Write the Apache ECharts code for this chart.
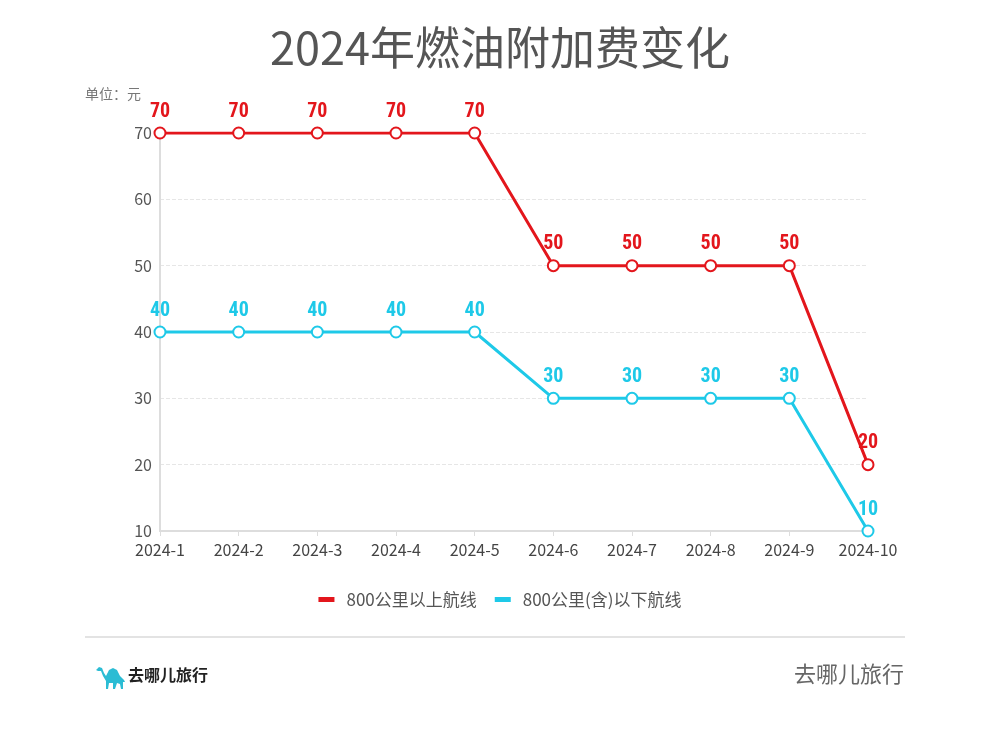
<!DOCTYPE html>
<html><head><meta charset="utf-8">
<script src="https://cdn.jsdelivr.net/npm/echarts@6/dist/echarts.min.js"></script>
<style>html,body{margin:0;padding:0;background:#fff}#c{width:1000px;height:735px}</style>
</head><body><div id="c"></div>
<script>
const categories = ['2024-1','2024-2','2024-3','2024-4','2024-5','2024-6','2024-7','2024-8','2024-9','2024-10'];
const seriesNames = ['800公里以上航线','800公里(含)以下航线'];
const above800 = [70,70,70,70,70,50,50,50,50,20];
const below800 = [40,40,40,40,40,30,30,30,30,10];
const yTicks = {min:10, max:70, interval:10};

const font = '"Noto Sans CJK SC","Noto Sans",sans-serif';
const red = '#e3161c', cyan = '#1ec9e8';
const chart = echarts.init(document.getElementById('c'));
function mk(name, data, color){
  return {
    name, type:'line', data,
    lineStyle:{color, width:3},
    itemStyle:{color:'#fff', borderColor:color, borderWidth:2},
    symbol:'circle', symbolSize:11,
    label:{show:true, position:'top', distance:5, color, fontSize:20, fontWeight:'bold', fontFamily:'"Roboto Condensed","Liberation Sans Narrow","Roboto",sans-serif'},
    emphasis:{disabled:true}
  };
}
const camel = [[0,5],[3,2],[6,3],[8,8],[10,11],[13,5],[17,3],[21,5],[24,11],[28,15],[29,17],[27,17],[27,24],[25,24],[24,19],[21,18],[19,24],[17,24],[17,18],[13,18],[12,24],[10,24],[10,16],[7,11],[5,6],[2,6]];
chart.setOption({
  animation:false,
  title:{text:'2024年燃油附加费变化', left:'center', top:20, textStyle:{fontSize:45, fontWeight:'normal', color:'#555', fontFamily:font}},
  legend:{top:586, left:'center', itemWidth:14, itemHeight:3, itemGap:18, icon:'rect',
    textStyle:{fontSize:17, color:'#555', fontFamily:font, padding:[0,0,0,8]},
    data:[{name:seriesNames[0], itemStyle:{color:red}},{name:seriesNames[1], itemStyle:{color:cyan}}]},
  grid:{left:160, right:132, top:133, bottom:204, containLabel:false},
  xAxis:{type:'category', data:categories, boundaryGap:false,
    axisLine:{lineStyle:{color:'#ddd', width:2}},
    axisTick:{show:true, alignWithLabel:true, lineStyle:{color:'#ddd'}},
    axisLabel:{color:'#444', fontSize:16, margin:11, fontFamily:font}},
  yAxis:{type:'value', min:yTicks.min, max:yTicks.max, interval:yTicks.interval,
    axisLine:{show:true, lineStyle:{color:'#ddd', width:2}},
    axisTick:{show:false},
    axisLabel:{color:'#555', fontSize:16, margin:8, fontFamily:font},
    splitLine:{lineStyle:{color:'#e6e6e6', type:'dashed'}}},
  series:[mk(seriesNames[0], above800, red), mk(seriesNames[1], below800, cyan)],
  graphic:[
    {type:'text', x:85, y:87, style:{text:'单位：元', fill:'#777', font:'14px '+font}},
    {type:'line', shape:{x1:85,y1:637,x2:905,y2:637}, style:{stroke:'#e3e3e3', lineWidth:2}},
    {type:'polygon', x:96, y:665, shape:{points:camel}, style:{fill:'#2bbcd4'}},
    {type:'text', x:128, y:667, style:{text:'去哪儿旅行', fill:'#222', font:'bold 16px '+font}},
    {type:'text', x:794, y:663, style:{text:'去哪儿旅行', fill:'#666', font:'22px '+font}}
  ]
});
</script></body></html>
